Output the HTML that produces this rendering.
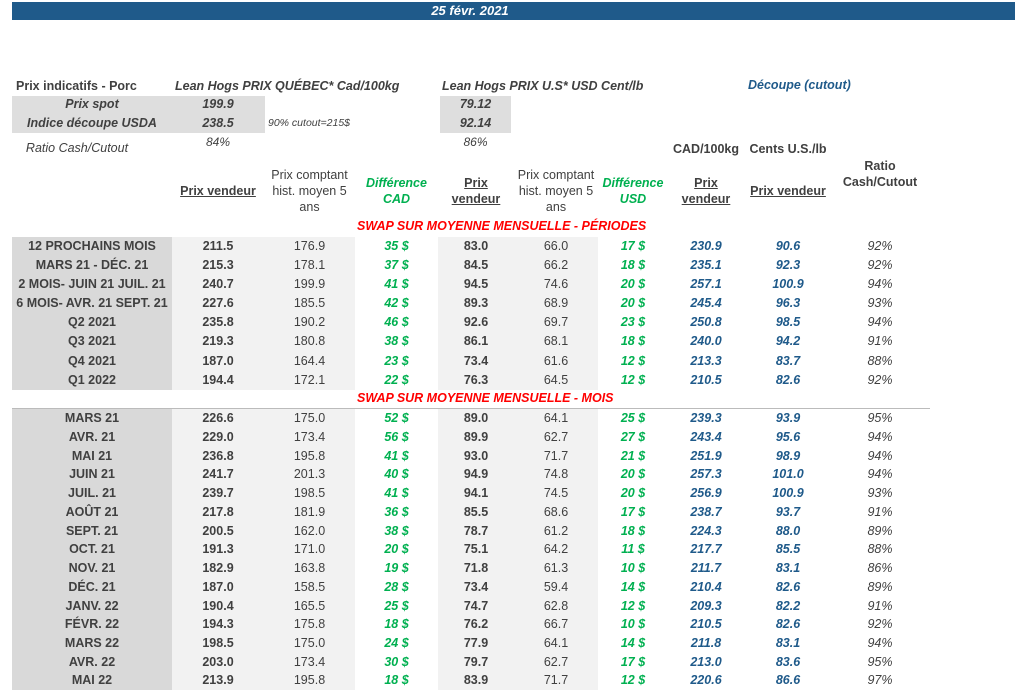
<!DOCTYPE html>
<html><head><meta charset="utf-8"><style>
body{margin:0;width:1024px;height:697px;position:relative;background:#fff;font-family:"Liberation Sans","DejaVu Sans",sans-serif;color:#404040;overflow:hidden}
div{position:absolute}
.r{height:19px;left:0;width:1024px;font-size:12.5px;font-weight:bold;line-height:19px}
.r div{text-align:center;white-space:nowrap}
.c1{left:12px;width:160px}.c2{left:172px;width:92px}.c3{left:264px;width:91px}
.c4{left:355px;width:83px;color:#00b050;font-style:italic}
.c5{left:438px;width:76px}.c6{left:514px;width:84px;font-weight:normal}
.c7{left:598px;width:70px;color:#00b050;font-style:italic}
.c8{left:668px;width:76px;color:#1f5a8a;font-style:italic}
.c9{left:744px;width:88px;color:#1f5a8a;font-style:italic}
.c10{left:832px;width:96px;font-style:italic;font-weight:normal}
.c3{font-weight:normal}
.h{font-size:12.5px;text-align:center;line-height:16px}
.red{color:#f00;font-style:italic;font-weight:bold;font-size:12.5px}
</style></head><body>
<div style="left:12px;top:2px;width:1003px;height:18px;background:#1f5a8a"></div>
<div style="left:400px;top:2px;width:140px;height:18px;line-height:18px;text-align:center;color:#fff;font-weight:bold;font-style:italic;font-size:13px">25 févr. 2021</div>

<div style="left:12px;top:96px;width:253px;height:37px;background:#dedede"></div>
<div style="left:440px;top:96px;width:71px;height:37px;background:#dedede"></div>
<div style="left:16px;top:79px;font-size:12.5px;font-weight:bold">Prix indicatifs - Porc</div>
<div style="left:175px;top:79px;font-size:12.5px;font-weight:bold;font-style:italic">Lean Hogs PRIX QUÉBEC* Cad/100kg</div>
<div style="left:442px;top:79px;font-size:12.5px;font-weight:bold;font-style:italic">Lean Hogs PRIX U.S* USD Cent/lb</div>
<div style="left:748px;top:78px;font-size:12.5px;font-weight:bold;font-style:italic;color:#1f5a8a">Découpe (cutout)</div>
<div style="left:12px;top:97px;width:160px;text-align:center;font-size:12.5px;font-weight:bold;font-style:italic">Prix spot</div>
<div style="left:172px;top:97px;width:92px;text-align:center;font-size:12.5px;font-weight:bold;font-style:italic">199.9</div>
<div style="left:440px;top:97px;width:71px;text-align:center;font-size:12.5px;font-weight:bold;font-style:italic">79.12</div>
<div style="left:12px;top:116px;width:160px;text-align:center;font-size:12.5px;font-weight:bold;font-style:italic">Indice découpe USDA</div>
<div style="left:172px;top:116px;width:92px;text-align:center;font-size:12.5px;font-weight:bold;font-style:italic">238.5</div>
<div style="left:268px;top:117px;font-size:10.5px;font-style:italic">90% cutout=215$</div>
<div style="left:440px;top:116px;width:71px;text-align:center;font-size:12.5px;font-weight:bold;font-style:italic">92.14</div>
<div style="left:12px;top:141px;width:130px;text-align:center;font-size:12.5px;font-style:italic">Ratio Cash/Cutout</div>
<div style="left:172px;top:135px;width:92px;text-align:center;font-size:12px;font-style:italic">84%</div>
<div style="left:440px;top:135px;width:71px;text-align:center;font-size:12px;font-style:italic">86%</div>
<div style="left:668px;top:142px;width:76px;text-align:center;font-size:12.5px;font-weight:bold">CAD/100kg</div>
<div style="left:744px;top:142px;width:88px;text-align:center;font-size:12.5px;font-weight:bold">Cents U.S./lb</div>

<div class="h" style="left:172px;top:183px;width:92px;font-weight:bold;text-decoration:underline">Prix vendeur</div>
<div class="h" style="left:264px;top:167px;width:91px">Prix comptant hist. moyen 5 ans</div>
<div class="h" style="left:355px;top:175px;width:83px;color:#00b050;font-weight:bold;font-style:italic">Différence CAD</div>
<div class="h" style="left:438px;top:175px;width:76px;font-weight:bold;text-decoration:underline">Prix<br>vendeur</div>
<div class="h" style="left:514px;top:167px;width:84px">Prix comptant hist. moyen 5 ans</div>
<div class="h" style="left:598px;top:175px;width:70px;color:#00b050;font-weight:bold;font-style:italic">Différence USD</div>
<div class="h" style="left:668px;top:175px;width:76px;font-weight:bold;text-decoration:underline">Prix<br>vendeur</div>
<div class="h" style="left:744px;top:183px;width:88px;font-weight:bold;text-decoration:underline">Prix vendeur</div>
<div class="h" style="left:832px;top:158px;width:96px;font-weight:bold">Ratio Cash/Cutout</div>

<div class="red" style="left:357px;top:219px">SWAP SUR MOYENNE MENSUELLE - PÉRIODES</div>
<div class="red" style="left:357px;top:391px">SWAP SUR MOYENNE MENSUELLE - MOIS</div>
<div style="left:12px;top:408px;width:918px;height:1px;background:#bbb"></div>

<div style="left:12px;top:237px;width:160px;height:153px;background:#d9d9d9"></div>
<div style="left:172px;top:237px;width:183px;height:153px;background:#f2f2f2"></div>
<div style="left:438px;top:237px;width:160px;height:153px;background:#f2f2f2"></div>
<div style="left:12px;top:409px;width:160px;height:281px;background:#d9d9d9"></div>
<div style="left:172px;top:409px;width:183px;height:281px;background:#f2f2f2"></div>
<div style="left:438px;top:409px;width:160px;height:281px;background:#f2f2f2"></div>

<div class="r" style="top:237px"><div class="c1">12 PROCHAINS MOIS</div><div class="c2">211.5</div><div class="c3">176.9</div><div class="c4">35 $</div><div class="c5">83.0</div><div class="c6">66.0</div><div class="c7">17 $</div><div class="c8">230.9</div><div class="c9">90.6</div><div class="c10">92%</div></div>
<div class="r" style="top:256px"><div class="c1">MARS 21 -  DÉC. 21</div><div class="c2">215.3</div><div class="c3">178.1</div><div class="c4">37 $</div><div class="c5">84.5</div><div class="c6">66.2</div><div class="c7">18 $</div><div class="c8">235.1</div><div class="c9">92.3</div><div class="c10">92%</div></div>
<div class="r" style="top:275px"><div class="c1">2 MOIS- JUIN 21 JUIL. 21</div><div class="c2">240.7</div><div class="c3">199.9</div><div class="c4">41 $</div><div class="c5">94.5</div><div class="c6">74.6</div><div class="c7">20 $</div><div class="c8">257.1</div><div class="c9">100.9</div><div class="c10">94%</div></div>
<div class="r" style="top:294px"><div class="c1">6 MOIS- AVR. 21 SEPT. 21</div><div class="c2">227.6</div><div class="c3">185.5</div><div class="c4">42 $</div><div class="c5">89.3</div><div class="c6">68.9</div><div class="c7">20 $</div><div class="c8">245.4</div><div class="c9">96.3</div><div class="c10">93%</div></div>
<div class="r" style="top:313px"><div class="c1">Q2 2021</div><div class="c2">235.8</div><div class="c3">190.2</div><div class="c4">46 $</div><div class="c5">92.6</div><div class="c6">69.7</div><div class="c7">23 $</div><div class="c8">250.8</div><div class="c9">98.5</div><div class="c10">94%</div></div>
<div class="r" style="top:332px"><div class="c1">Q3 2021</div><div class="c2">219.3</div><div class="c3">180.8</div><div class="c4">38 $</div><div class="c5">86.1</div><div class="c6">68.1</div><div class="c7">18 $</div><div class="c8">240.0</div><div class="c9">94.2</div><div class="c10">91%</div></div>
<div class="r" style="top:352px"><div class="c1">Q4 2021</div><div class="c2">187.0</div><div class="c3">164.4</div><div class="c4">23 $</div><div class="c5">73.4</div><div class="c6">61.6</div><div class="c7">12 $</div><div class="c8">213.3</div><div class="c9">83.7</div><div class="c10">88%</div></div>
<div class="r" style="top:371px"><div class="c1">Q1 2022</div><div class="c2">194.4</div><div class="c3">172.1</div><div class="c4">22 $</div><div class="c5">76.3</div><div class="c6">64.5</div><div class="c7">12 $</div><div class="c8">210.5</div><div class="c9">82.6</div><div class="c10">92%</div></div>

<div class="r" style="top:409px"><div class="c1">MARS 21</div><div class="c2">226.6</div><div class="c3">175.0</div><div class="c4">52 $</div><div class="c5">89.0</div><div class="c6">64.1</div><div class="c7">25 $</div><div class="c8">239.3</div><div class="c9">93.9</div><div class="c10">95%</div></div>
<div class="r" style="top:428px"><div class="c1">AVR. 21</div><div class="c2">229.0</div><div class="c3">173.4</div><div class="c4">56 $</div><div class="c5">89.9</div><div class="c6">62.7</div><div class="c7">27 $</div><div class="c8">243.4</div><div class="c9">95.6</div><div class="c10">94%</div></div>
<div class="r" style="top:447px"><div class="c1">MAI 21</div><div class="c2">236.8</div><div class="c3">195.8</div><div class="c4">41 $</div><div class="c5">93.0</div><div class="c6">71.7</div><div class="c7">21 $</div><div class="c8">251.9</div><div class="c9">98.9</div><div class="c10">94%</div></div>
<div class="r" style="top:465px"><div class="c1">JUIN 21</div><div class="c2">241.7</div><div class="c3">201.3</div><div class="c4">40 $</div><div class="c5">94.9</div><div class="c6">74.8</div><div class="c7">20 $</div><div class="c8">257.3</div><div class="c9">101.0</div><div class="c10">94%</div></div>
<div class="r" style="top:484px"><div class="c1">JUIL. 21</div><div class="c2">239.7</div><div class="c3">198.5</div><div class="c4">41 $</div><div class="c5">94.1</div><div class="c6">74.5</div><div class="c7">20 $</div><div class="c8">256.9</div><div class="c9">100.9</div><div class="c10">93%</div></div>
<div class="r" style="top:503px"><div class="c1">AOÛT 21</div><div class="c2">217.8</div><div class="c3">181.9</div><div class="c4">36 $</div><div class="c5">85.5</div><div class="c6">68.6</div><div class="c7">17 $</div><div class="c8">238.7</div><div class="c9">93.7</div><div class="c10">91%</div></div>
<div class="r" style="top:522px"><div class="c1">SEPT. 21</div><div class="c2">200.5</div><div class="c3">162.0</div><div class="c4">38 $</div><div class="c5">78.7</div><div class="c6">61.2</div><div class="c7">18 $</div><div class="c8">224.3</div><div class="c9">88.0</div><div class="c10">89%</div></div>
<div class="r" style="top:540px"><div class="c1">OCT. 21</div><div class="c2">191.3</div><div class="c3">171.0</div><div class="c4">20 $</div><div class="c5">75.1</div><div class="c6">64.2</div><div class="c7">11 $</div><div class="c8">217.7</div><div class="c9">85.5</div><div class="c10">88%</div></div>
<div class="r" style="top:559px"><div class="c1">NOV. 21</div><div class="c2">182.9</div><div class="c3">163.8</div><div class="c4">19 $</div><div class="c5">71.8</div><div class="c6">61.3</div><div class="c7">10 $</div><div class="c8">211.7</div><div class="c9">83.1</div><div class="c10">86%</div></div>
<div class="r" style="top:578px"><div class="c1">DÉC. 21</div><div class="c2">187.0</div><div class="c3">158.5</div><div class="c4">28 $</div><div class="c5">73.4</div><div class="c6">59.4</div><div class="c7">14 $</div><div class="c8">210.4</div><div class="c9">82.6</div><div class="c10">89%</div></div>
<div class="r" style="top:597px"><div class="c1">JANV. 22</div><div class="c2">190.4</div><div class="c3">165.5</div><div class="c4">25 $</div><div class="c5">74.7</div><div class="c6">62.8</div><div class="c7">12 $</div><div class="c8">209.3</div><div class="c9">82.2</div><div class="c10">91%</div></div>
<div class="r" style="top:615px"><div class="c1">FÉVR. 22</div><div class="c2">194.3</div><div class="c3">175.8</div><div class="c4">18 $</div><div class="c5">76.2</div><div class="c6">66.7</div><div class="c7">10 $</div><div class="c8">210.5</div><div class="c9">82.6</div><div class="c10">92%</div></div>
<div class="r" style="top:634px"><div class="c1">MARS 22</div><div class="c2">198.5</div><div class="c3">175.0</div><div class="c4">24 $</div><div class="c5">77.9</div><div class="c6">64.1</div><div class="c7">14 $</div><div class="c8">211.8</div><div class="c9">83.1</div><div class="c10">94%</div></div>
<div class="r" style="top:653px"><div class="c1">AVR. 22</div><div class="c2">203.0</div><div class="c3">173.4</div><div class="c4">30 $</div><div class="c5">79.7</div><div class="c6">62.7</div><div class="c7">17 $</div><div class="c8">213.0</div><div class="c9">83.6</div><div class="c10">95%</div></div>
<div class="r" style="top:671px"><div class="c1">MAI 22</div><div class="c2">213.9</div><div class="c3">195.8</div><div class="c4">18 $</div><div class="c5">83.9</div><div class="c6">71.7</div><div class="c7">12 $</div><div class="c8">220.6</div><div class="c9">86.6</div><div class="c10">97%</div></div>
</body></html>
